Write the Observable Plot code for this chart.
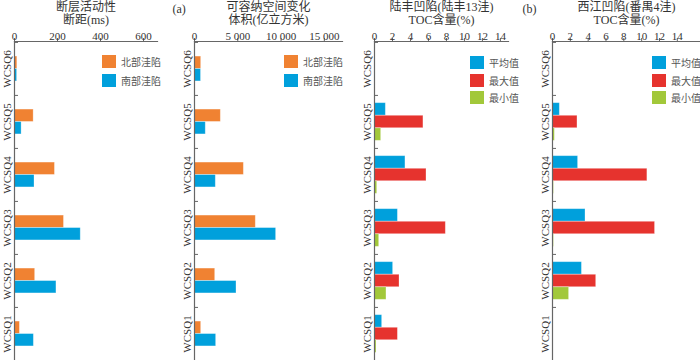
<!DOCTYPE html>
<html><head><meta charset="utf-8">
<script src="https://cdn.jsdelivr.net/npm/d3@7"></script>
<script src="https://cdn.jsdelivr.net/npm/@observablehq/plot@0.6"></script>
<style>
body{margin:0;background:#fff;}
#wrap{position:relative;width:700px;height:363px;overflow:hidden;background:#fff;}
.panel{position:absolute;top:0;}
.legend{position:absolute;font-family:"Liberation Serif","Noto Sans CJK SC",serif;font-size:10px;color:#555;}
.item{position:absolute;left:0;display:flex;align-items:center;white-space:nowrap;}
.sw{width:14px;height:13px;margin-right:5px;}
</style></head><body><div id="wrap"></div>
<script>
const categories = ["WCSQ6","WCSQ5","WCSQ4","WCSQ3","WCSQ2","WCSQ1"];
// Panel 1: 断层活动性 断距(ms)
const faultNorth = [13, 89, 188, 230, 96, 25];
const faultSouth = [12, 33, 93, 308, 195, 90];
// Panel 2: 可容纳空间变化 体积(亿立方米)
const spaceNorth = [770, 3040, 5700, 7080, 2390, 770];
const spaceSouth = [750, 1300, 2460, 9430, 4850, 2500];
// Panel 3: 陆丰凹陷(陆丰13洼) TOC含量(%)
const lfAvg = [null, 1.26, 3.44, 2.6, 2.07, 0.85];
const lfMax = [null, 5.44, 5.78, 7.93, 2.78, 2.6];
const lfMin = [null, 0.74, 0.3, 0.52, 1.33, 0.22];
// Panel 4: 西江凹陷(番禺4洼) TOC含量(%)
const xjAvg = [null, 0.82, 2.87, 3.7, 3.3, null];
const xjMax = [null, 2.8, 10.64, 11.5, 4.9, null];
const xjMin = [null, 0.26, 0.15, 0.15, 1.86, null];

const ticks1 = [0, 200, 400, 600];
const ticks2 = [0, 5000, 10000, 15000];
const ticksToc = [0, 2, 4, 6, 8, 10, 12, 14];

const C = {orange:"#f08232", blue:"#00a0dc", red:"#e6332e", green:"#a2c83a"};
const FONT = "'Liberation Serif','Noto Sans CJK SC',serif";
const wrap = document.getElementById("wrap");

function panel(o){
  const H = 363, mt = 41, mb = 3;
  const bw = (H - mt - mb) / categories.length;
  const off = (bw - o.barH * o.series.length) / 2;
  const marks = [];
  o.series.forEach((s, k) => {
    const data = categories.map((c, i) => ({cat: c, v: s.values[i]})).filter(d => d.v != null);
    marks.push(Plot.barX(data, {y: "cat", x: "v", fill: s.color,
      stroke: "#fff", strokeOpacity: 0.35, strokeWidth: 0.8,
      insetTop: off + k * o.barH, insetBottom: bw - off - (k + 1) * o.barH}));
  });
  marks.push(Plot.ruleX([0], {stroke: "#666", strokeWidth: 1.2}));
  marks.push(Plot.frame({anchor: "top", stroke: "#666", strokeWidth: 1.2}));
  marks.push(Plot.axisX({anchor: "top", ticks: o.ticks, tickFormat: o.fmt, tickSize: 4, tickPadding: -2,
    fontSize: 11, fill: "#333", stroke: "#666", label: null}));
  marks.push(Plot.axisY({anchor: "left", tickSize: 4, dx: 4, dy: -bw / 2, tickFormat: () => "", stroke: "#666", label: null}));
  marks.push(Plot.text(categories, {y: d => d, text: d => d, frameAnchor: "left", rotate: -90,
    textAnchor: "middle", lineAnchor: "bottom", dx: -4, fontSize: 11, fill: "#333"}));
  marks.push(Plot.text([o.title1], {text: d => d, frameAnchor: "top", lineAnchor: "middle", dy: -34, fontSize: 12, fill: "#333"}));
  marks.push(Plot.text([o.title2], {text: d => d, frameAnchor: "top", lineAnchor: "middle", dy: -21, fontSize: 12, fill: "#333"}));
  if (o.tag) marks.push(Plot.text([o.tag], {text: d => d, frameAnchor: "top-left", lineAnchor: "middle", dx: o.tagDx, dy: -32,
    textAnchor: "start", fontSize: 12, fill: "#333"}));
  const chart = Plot.plot({
    width: o.width, height: H,
    marginTop: mt, marginBottom: mb, marginLeft: o.ml, marginRight: o.mr,
    style: {fontFamily: FONT, background: "transparent", color: "#333"},
    x: {domain: o.domain},
    y: {domain: categories, padding: 0},
    marks
  });
  const div = document.createElement("div");
  div.className = "panel";
  div.style.left = o.left + "px";
  div.appendChild(chart);
  wrap.appendChild(div);
  // legend
  const lg = document.createElement("div");
  lg.className = "legend";
  lg.style.left = o.legend.x + "px";
  lg.style.top = o.legend.y + "px";
  o.series.forEach((s, k) => {
    const it = document.createElement("div");
    it.className = "item";
    it.style.top = (k * o.legend.step) + "px";
    const sw = document.createElement("div");
    sw.className = "sw"; sw.style.background = s.color;
    const t = document.createElement("span"); t.textContent = s.name;
    it.appendChild(sw); it.appendChild(t);
    lg.appendChild(it);
  });
  wrap.appendChild(lg);
}

const spaceFmt = d => d3.format(",")(d).replace(/,/g, " ");

panel({left: 0, width: 170, ml: 14, mr: 13, domain: [0, 665], ticks: ticks1, fmt: d => String(d),
  barH: 12.5, title1: "断层活动性", title2: "断距(ms)",
  series: [{name: "北部洼陷", values: faultNorth, color: C.orange}, {name: "南部洼陷", values: faultSouth, color: C.blue}],
  legend: {x: 102, y: 54, step: 19}});
panel({left: 170, width: 180, ml: 24, mr: 8, domain: [0, 17100], ticks: ticks2, fmt: spaceFmt,
  barH: 12.5, title1: "可容纳空间变化", title2: "体积(亿立方米)", tag: "(a)", tagDx: -22,
  series: [{name: "北部洼陷", values: spaceNorth, color: C.orange}, {name: "南部洼陷", values: spaceSouth, color: C.blue}],
  legend: {x: 284, y: 54, step: 19}});
panel({left: 350, width: 170, ml: 24, mr: 12, domain: [0, 14.9], ticks: ticksToc, fmt: d => String(d),
  barH: 12.6, title1: "陆丰凹陷(陆丰13洼)", title2: "TOC含量(%)",
  series: [{name: "平均值", values: lfAvg, color: C.blue}, {name: "最大值", values: lfMax, color: C.red}, {name: "最小值", values: lfMin, color: C.green}],
  legend: {x: 470, y: 55, step: 17.5}});
panel({left: 520, width: 180, ml: 32, mr: 0, domain: [0, 16.6], ticks: ticksToc, fmt: d => String(d),
  barH: 12.6, title1: "西江凹陷(番禺4洼)", title2: "TOC含量(%)", tag: "(b)", tagDx: -30,
  series: [{name: "平均值", values: xjAvg, color: C.blue}, {name: "最大值", values: xjMax, color: C.red}, {name: "最小值", values: xjMin, color: C.green}],
  legend: {x: 652, y: 55, step: 17.5}});
</script></body></html>
